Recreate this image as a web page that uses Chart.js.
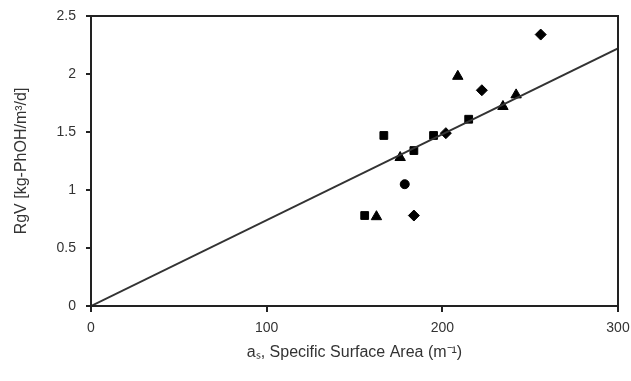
<!DOCTYPE html>
<html>
<head>
<meta charset="utf-8">
<script src="https://cdn.jsdelivr.net/npm/chart.js@4"></script>
<style>
  html, body { margin: 0; padding: 0; background: #fff; }
  #wrap { width: 631px; height: 381px; }
</style>
</head>
<body>
<div id="wrap"><canvas id="chart" width="631" height="381"></canvas></div>
<script>
// data
const squareX = [155.8, 166.7, 183.8, 195, 215];
const squareY = [0.78, 1.47, 1.34, 1.47, 1.61];
const triangleX = [162.5, 176, 208.8, 234.5, 242];
const triangleY = [0.77, 1.28, 1.98, 1.72, 1.82];
const diamondX = [183.8, 202, 222.5, 256];
const diamondY = [0.78, 1.49, 1.86, 2.34];
const circleX = [178.6];
const circleY = [1.05];
const fitX = [0, 300];
const fitY = [0, 2.22];

const xTicks = [0, 100, 200, 300];
const yTicks = [0, 0.5, 1, 1.5, 2, 2.5];

function pts(xs, ys) {
    return xs.map((x, i) => ({ x: x, y: ys[i] }));
}

// frame round the plot area
const framePlugin = {
    id: 'frame',
    afterDraw(chart) {
        const a = chart.chartArea;
        const ctx = chart.ctx;
        ctx.save();
        ctx.strokeStyle = '#222';
        ctx.lineWidth = 2;
        ctx.strokeRect(a.left, a.top, a.right - a.left, a.bottom - a.top);
        ctx.restore();
    }
};

const tickFont = { family: 'Liberation Sans, Arial, sans-serif', size: 14 };
const titleFont = { family: 'Liberation Sans, Arial, sans-serif', size: 16 };

new Chart(document.getElementById('chart'), {
    type: 'scatter',
    data: {
        datasets: [
            {
                type: 'line',
                data: pts(fitX, fitY),
                borderColor: '#333',
                borderWidth: 2,
                pointRadius: 0,
                fill: false
            },
            {
                data: pts(squareX, squareY),
                pointStyle: 'rect',
                pointRadius: 5.5,
                backgroundColor: '#000',
                borderColor: '#000'
            },
            {
                data: pts(triangleX, triangleY),
                pointStyle: 'triangle',
                pointRadius: 6,
                backgroundColor: '#000',
                borderColor: '#000'
            },
            {
                data: pts(diamondX, diamondY),
                pointStyle: 'rectRot',
                pointRadius: 5.5,
                backgroundColor: '#000',
                borderColor: '#000'
            },
            {
                data: pts(circleX, circleY),
                pointStyle: 'circle',
                pointRadius: 4.5,
                backgroundColor: '#000',
                borderColor: '#000'
            }
        ]
    },
    options: {
        responsive: false,
        animation: false,
        layout: { padding: { left: 0, right: 13, top: 16, bottom: 0 } },
        plugins: {
            legend: { display: false },
            tooltip: { enabled: false }
        },
        scales: {
            x: {
                type: 'linear',
                min: 0,
                max: 300,
                afterBuildTicks: s => { s.ticks = xTicks.map(v => ({ value: v })); },
                afterFit: s => { s.height = 75; s.paddingRight = 0; s.paddingLeft = 0; },
                grid: { drawOnChartArea: false, drawTicks: true, tickLength: 6, color: '#222', lineWidth: 2 },
                border: { display: true, color: '#222', width: 2 },
                ticks: { color: '#333', font: tickFont, padding: 8, callback: v => String(v) },
                title: {
                    display: true,
                    text: 'aₛ, Specific Surface Area (m⁻¹)',
                    color: '#333',
                    font: titleFont,
                    padding: { top: 0, bottom: 19 }
                }
            },
            y: {
                type: 'linear',
                min: 0,
                max: 2.5,
                afterBuildTicks: s => { s.ticks = yTicks.map(v => ({ value: v })); },
                afterFit: s => { s.width = 91; s.paddingTop = 0; s.paddingBottom = 0; },
                grid: { drawOnChartArea: false, drawTicks: true, tickLength: 5, color: '#222', lineWidth: 2 },
                border: { display: true, color: '#222', width: 2 },
                ticks: { color: '#333', font: tickFont, padding: 10, callback: v => String(v) },
                title: {
                    display: true,
                    text: 'RgV [kg-PhOH/m³/d]',
                    color: '#333',
                    font: titleFont,
                    padding: { top: 12, bottom: 0 }
                }
            }
        }
    },
    plugins: [framePlugin]
});
</script>
</body>
</html>
